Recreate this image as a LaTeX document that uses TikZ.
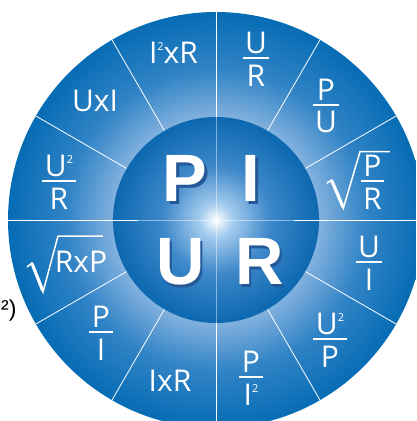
\documentclass[tikz,border=0pt]{standalone}
\usepackage{fontspec}
\setmainfont{Open Sans}
\newfontfamily\bigfont{Liberation Sans}

\definecolor{ringdark}{RGB}{6,108,180}
\definecolor{ringmid}{RGB}{50,132,198}
\definecolor{ringlight}{RGB}{128,176,222}
\definecolor{hubdark}{RGB}{12,104,176}
\definecolor{hubmid}{RGB}{62,136,202}
\definecolor{hublight}{RGB}{165,204,238}
\definecolor{letshadow}{RGB}{36,88,150}

\pgfdeclareradialshading{ringshade}{\pgfpoint{0bp}{0bp}}{color(0bp)=(ringlight); color(12.5bp)=(ringlight); color(18bp)=(ringmid); color(25bp)=(ringdark); color(50bp)=(ringdark)}
\pgfdeclareradialshading{hubshade}{\pgfpoint{0bp}{0bp}}{color(0bp)=(white); color(4bp)=(hublight); color(13bp)=(hubmid); color(25bp)=(hubdark); color(50bp)=(hubdark)}

% small raised 2
\newcommand{\sqd}{\raisebox{13pt}{\fontsize{11}{11}\selectfont 2}}
% stacked fraction with a bar
\newcommand{\frc}[2]{%
  \setbox0=\hbox{#1}\setbox2=\hbox{#2}%
  \dimen0=\wd0 \ifdim\wd2>\dimen0 \dimen0=\wd2 \fi
  \advance\dimen0 by 5pt
  \vbox{\hbox to\dimen0{\hss\box0\hss}\kern4pt\hrule height1.3pt\kern6pt\hbox to\dimen0{\hss\box2\hss}}}
% letter with a shadow behind it
\newcommand{\shd}[1]{\rlap{\kern2.5pt\raisebox{-2.5pt}{\textcolor{letshadow}{#1}}}#1}

\begin{document}
\begin{tikzpicture}[x=1pt, y=1pt,
    formula/.style={text=white, font=\fontsize{30}{32}\selectfont, inner sep=0pt},
    letter/.style={text=white, font=\bigfont\bfseries\fontsize{67}{67}\selectfont, inner sep=0pt},
    spoke/.style={white, line width=0.8pt},
    radical/.style={white, line width=1.5pt, line join=miter}
]
    \useasboundingbox (-216,-201) rectangle (200,220);
    \clip (-216,-201) rectangle (200,220);

    % Outer ring
    \shade[shading=ringshade] (0,0) circle[radius=208pt];
    \foreach \a in {0,30,...,330}
        \draw[spoke] (\a:103) -- (\a:208);
    \draw[spoke] (0:78) -- (0:103);
    \draw[spoke] (180:78) -- (180:103);

    % Inner disc
    \shade[shading=hubshade] (0,0) circle[radius=103pt];
    \draw[spoke, opacity=0.45] (-103,0) -- (103,0);
    \draw[spoke, opacity=0.45] (0,-103) -- (0,103);
    \draw[spoke] (-103,0) -- (-78,0);
    \draw[spoke] (78,0) -- (103,0);

    % Formulas
    \node[formula] (i2r) at (-42.5,167) {I\sqd xR};
    \node[formula] (ur) at (40,161) {\frc{U}{R}};
    \node[formula] (pu) at (110,114) {\frc{P}{U}};
    \node[formula] (pr) at (156.5,38) {\frc{P}{R}};
    \node[formula] (ui) at (153,-43) {\frc{U}{I}};
    \node[formula] (u2p) at (114,-120) {\frc{U\sqd}{P}};
    \node[formula] (pi2) at (35,-158) {\frc{P}{I\sqd}};
    \node[formula] (ixr) at (-46,-161) {IxR};
    \node[formula] (pi) at (-115,-113) {\frc{P}{I}};
    \node[formula] (rxp) at (-135,-42) {RxP};
    \node[formula] (u2r) at (-157,38) {\frc{U\sqd}{R}};
    \node[formula] (uxi) at (-121,119) {UxI};

    % Roots
    \draw[radical] (110.7,36.7) -- (115.7,40) -- (127.3,11.7) -- (144,68.3) -- (174,68.3);
    \draw[white, line width=3.2pt] (115.9,39) -- (127,13);
    \draw[radical] (-189,-47) -- (-184,-43) -- (-173,-72) -- (-158,-16) -- (-113,-16);
    \draw[white, line width=3.2pt] (-183.8,-44) -- (-173.3,-70.5);

    % Big letters
    \node[letter] (p) at (-30.8,39.8) {\shd{P}};
    \node[letter] (i) at (35.2,39.8) {\shd{I}};
    \node[letter] (u) at (-35.8,-43.2) {\shd{U}};
    \node[letter] (r) at (43.2,-43.2) {\shd{R}};

    % Stray text at the left
    \node[anchor=west, inner sep=0pt, font=\bigfont\fontsize{23}{23}\selectfont] (stray) at (-215,-91) {²)};
\end{tikzpicture}
\end{document}
